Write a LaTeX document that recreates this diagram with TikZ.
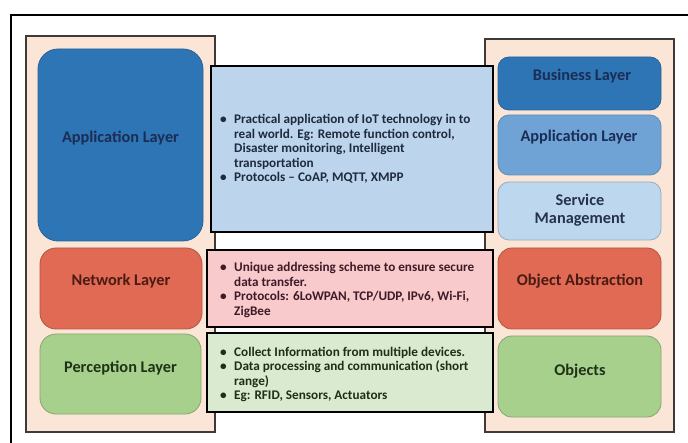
\documentclass[tikz,border=0pt]{standalone}
\usepackage{fontspec}
\setmainfont{Carlito}

% fills
\definecolor{peach}{HTML}{FBE5D6}
\definecolor{panelline}{HTML}{3F3A38}
\definecolor{blueA}{HTML}{2E75B6}
\definecolor{blueB}{HTML}{6FA3D6}
\definecolor{blueC}{HTML}{BDD7EE}
\definecolor{redA}{HTML}{E06A53}
\definecolor{greenA}{HTML}{A8D08D}
\definecolor{infoblue}{HTML}{BDD5EC}
\definecolor{infopink}{HTML}{F8CACC}
\definecolor{infogreen}{HTML}{D9EAD1}
% text colours
\definecolor{navytxt}{HTML}{1B2D55}
\definecolor{maroontxt}{HTML}{4A1B14}
\definecolor{greentxt}{HTML}{1E3315}
\definecolor{slatetxt}{HTML}{26324D}
\definecolor{bluebody}{HTML}{1E2A3E}
\definecolor{pinkbody}{HTML}{3F1B28}
\definecolor{greenbody}{HTML}{1F2E17}

\newcommand{\bl}{\makebox[14pt][l]{\textbullet}}
\newcommand{\hang}{\hspace*{14pt}}

\begin{document}
\begin{tikzpicture}[x=1pt,y=-1pt,
  panel/.style={rectangle, draw=panelline, line width=1.3pt, fill=peach, inner sep=0pt},
  layer/.style={rectangle, inner sep=0pt, line width=0.8pt},
  info/.style={rectangle, draw=black, line width=2pt, inner sep=0pt},
  lbl/.style={font=\fontsize{16.3}{18.5}\selectfont\bfseries, anchor=base, align=center, inner sep=0pt},
  body/.style={font=\fontsize{13.2}{14.6}\selectfont\bfseries, anchor=west, align=left, inner sep=0pt}]
\useasboundingbox (0,0) rectangle (688,443);
\fill[white] (0,0) rectangle (688,443);

% outer frame (open to the right and bottom)
\coordinate (fbl) at (11,443);
\coordinate (ftl) at (11,15);
\coordinate (ftr) at (688,15);
\draw[line width=2pt] (fbl) -- (ftl) -- (ftr);

% side panels
\node[panel, minimum width=189pt, minimum height=396pt] (lpanel) at (120.5,234) {};
\node[panel, minimum width=189pt, minimum height=393pt] (rpanel) at (579.5,235.5) {};

% left stack
\node[layer, fill=blueA, draw=blueA!85!black, rounded corners=20pt,
      minimum width=165pt, minimum height=192pt] (lapp) at (120.5,145) {};
\node[layer, fill=redA, draw=redA!80!black, rounded corners=16pt,
      minimum width=162pt, minimum height=81pt] (lnet) at (121,288.5) {};
\node[layer, fill=greenA, draw=greenA!80!black, rounded corners=16pt,
      minimum width=161pt, minimum height=80pt] (lper) at (120.5,374) {};
\node[lbl, text=navytxt] (lappt) at (120.5,143) {Application Layer};
\node[lbl, text=maroontxt] (lnett) at (121,286) {Network Layer};
\node[lbl, text=greentxt] (lpert) at (120.5,373) {Perception Layer};

% right stack
\node[layer, fill=blueA, draw=blueA!85!black, rounded corners=11pt,
      minimum width=163pt, minimum height=53pt] (rbus) at (579.5,83.5) {};
\node[layer, fill=blueB, draw=blueB!85!black, rounded corners=11pt,
      minimum width=163pt, minimum height=60pt] (rapp) at (579.5,145) {};
\node[layer, fill=blueC, draw=blueC!80!black, rounded corners=11pt,
      minimum width=163pt, minimum height=58pt] (rsrv) at (579.5,211) {};
\node[layer, fill=redA, draw=redA!80!black, rounded corners=14pt,
      minimum width=163pt, minimum height=81pt] (robj) at (579.5,288.5) {};
\node[layer, fill=greenA, draw=greenA!80!black, rounded corners=14pt,
      minimum width=163pt, minimum height=81pt] (rob) at (579.5,376.5) {};
\node[lbl, text=navytxt] (rbust) at (582,81) {Business Layer};
\node[lbl, text=navytxt] (rappt) at (579,142) {Application Layer};
\node[lbl, text=slatetxt, anchor=center] (rsrvt) at (580,210) {Service\\[-0.5pt]Management};
\node[lbl, text=maroontxt] (robjt) at (580,286) {Object Abstraction};
\node[lbl, text=greentxt] (robt) at (580,376) {Objects};

% description boxes
\node[info, fill=infoblue, minimum width=282pt, minimum height=166pt] (iapp) at (352,149) {};
\node[info, fill=infopink, minimum width=286pt, minimum height=77pt] (inet) at (350,288.5) {};
\node[info, fill=infogreen, minimum width=286pt, minimum height=79pt] (iper) at (350,372.5) {};

\node[body, text=bluebody] (iappt) at (220,149) {%
  \bl Practical application of IoT technology in to\\
  \hang real world. Eg: Remote function control,\\
  \hang Disaster monitoring, Intelligent\\
  \hang transportation\\
  \bl Protocols -- CoAP, MQTT, XMPP};
\node[body, text=pinkbody] (inett) at (220,290) {%
  \bl Unique addressing scheme to ensure secure\\
  \hang data transfer.\\
  \bl Protocols: 6LoWPAN, TCP/UDP, IPv6, Wi-Fi,\\
  \hang ZigBee};
\node[body, text=greenbody] (ipert) at (220,374.5) {%
  \bl Collect Information from multiple devices.\\
  \bl Data processing and communication (short\\
  \hang range)\\
  \bl Eg: RFID, Sensors, Actuators};
\end{tikzpicture}
\end{document}
